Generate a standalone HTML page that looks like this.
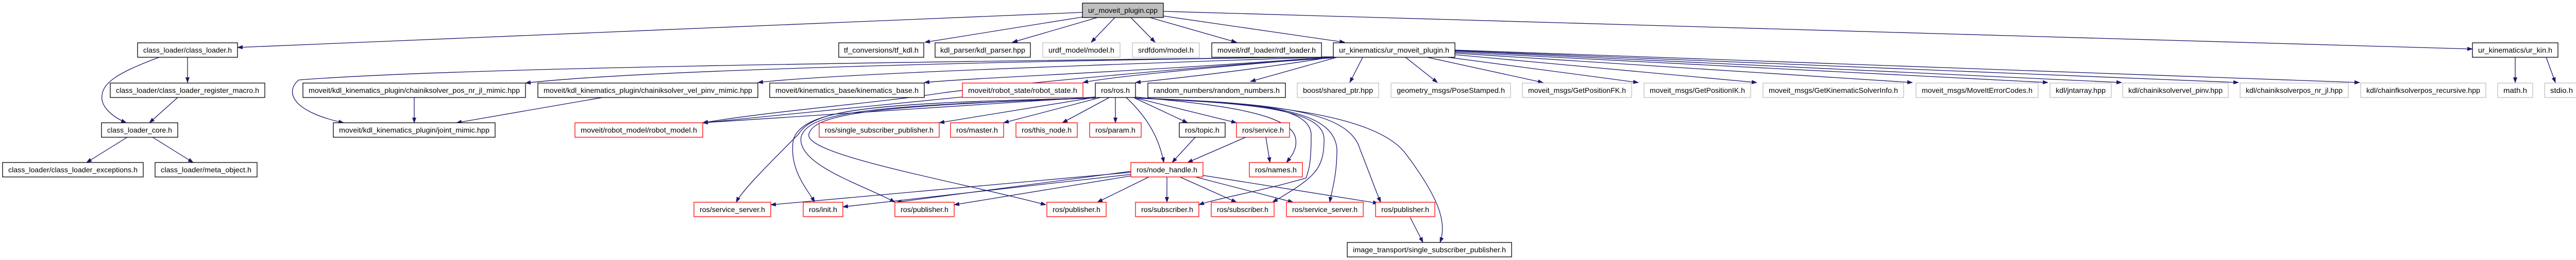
<!DOCTYPE html>
<html><head><meta charset="utf-8"><style>
html,body{margin:0;padding:0;background:#fff;}
svg{display:block;}
text{font-family:"Liberation Sans",sans-serif;font-size:14px;fill:#000;text-anchor:middle;}
.e{fill:none;stroke:#191970;stroke-width:1.3;marker-end:url(#a);}
.b{fill:#fff;stroke:#000;stroke-width:1.3;}
.r{fill:#fff;stroke:#ff0000;stroke-width:1.3;}
.g{fill:#fff;stroke:#bfbfbf;stroke-width:1.3;}
</style></head><body>
<svg width="5009" height="504" viewBox="0 0 5009 504" xmlns="http://www.w3.org/2000/svg">
<defs><marker id="a" markerWidth="11" markerHeight="8" refX="10" refY="4" orient="auto" markerUnits="userSpaceOnUse"><path d="M0,0L11,4L0,8z" fill="#191970"/></marker></defs>
<g>
<!-- edges from cpp -->
<path class="e" d="M2101,24L461,92"/>
<path class="e" d="M2101,33L1795,82"/>
<path class="e" d="M2130,34L1965,82"/>
<path class="e" d="M2164,34L2118,82"/>
<path class="e" d="M2195,34L2242,82"/>
<path class="e" d="M2232,34L2400,82"/>
<path class="e" d="M2258,31L2610,82"/>
<path class="e" d="M2258,22L4799,95"/>
<!-- class loader -->
<path class="e" d="M364,111L364,160"/>
<path class="e" d="M309,111C230,140 200,160 198,185C195,205 215,225 245,238"/>
<path class="e" d="M346,188L290,238"/>
<path class="e" d="M247,266L168,315"/>
<path class="e" d="M296,266L375,315"/>
<!-- ur_moveit_plugin.h fan -->
<path class="e" d="M2590,110C1800,120 900,130 580,155C555,175 560,215 667,238"/>
<path class="e" d="M2590,110C1800,120 1200,140 1020,161"/>
<path class="e" d="M2590,110C2000,130 1600,145 1471,160"/>
<path class="e" d="M2590,110C2200,140 1900,150 1794,160"/>
<path class="e" d="M2590,110C2300,135 2150,150 2102,160"/>
<path class="e" d="M2590,110C2400,140 2250,155 2204,160"/>
<path class="e" d="M2595,111L2427,158"/>
<path class="e" d="M2645,111L2620,160"/>
<path class="e" d="M2728,111L2790,160"/>
<path class="e" d="M2770,111L2995,160"/>
<path class="e" d="M2810,111L3180,160"/>
<path class="e" d="M2824,106L3410,160"/>
<path class="e" d="M2824,103L3712,160"/>
<path class="e" d="M2824,101L3975,160"/>
<path class="e" d="M2824,99L4118,160"/>
<path class="e" d="M2824,98L4345,160"/>
<path class="e" d="M2824,97L4580,160"/>
<path class="e" d="M2590,112C2300,130 1900,170 1830,180C1700,200 1500,215 1364,238"/>
<!-- ur_kin -->
<path class="e" d="M4882,111L4882,160"/>
<path class="e" d="M4942,111L4960,160"/>
<!-- mimic -->
<path class="e" d="M804,188L804,238"/>
<path class="e" d="M1175,188L886,238"/>
<!-- robot_state -->
<path class="e" d="M1868,188L1364,238"/>
<!-- ros.h -->
<path class="e" d="M2126,188L1364,238"/>
<path class="e" d="M2130,188L1823,238"/>
<path class="e" d="M2140,188L1948,238"/>
<path class="e" d="M2155,188L2062,238"/>
<path class="e" d="M2165,188L2165,238"/>
<path class="e" d="M2185,188C2230,230 2250,270 2259,315"/>
<path class="e" d="M2198,188L2305,238"/>
<path class="e" d="M2204,190L2400,238"/>
<path class="e" d="M2204,188C2330,200 2510,215 2515,270C2518,290 2505,305 2497,315"/>
<path class="e" d="M2126,190C1700,200 1580,210 1550,260C1490,320 1440,370 1429,392"/>
<path class="e" d="M2126,190C1700,200 1560,210 1540,270C1530,330 1570,370 1581,392"/>
<path class="e" d="M2126,190C1700,205 1570,215 1555,265C1545,320 1680,360 1737,392"/>
<path class="e" d="M2126,190C1700,205 1580,220 1570,260C1560,300 1850,350 2030,397"/>
<path class="e" d="M2204,190C2400,200 2540,200 2545,260C2545,320 2540,330 2535,345C2450,370 2360,385 2327,397"/>
<path class="e" d="M2204,190C2420,200 2570,210 2570,270C2570,330 2550,345 2470,392"/>
<path class="e" d="M2204,190C2450,200 2590,210 2595,290C2595,340 2585,370 2581,392"/>
<path class="e" d="M2204,190C2500,200 2620,220 2640,290C2660,340 2670,370 2680,392"/>
<path class="e" d="M2204,190C2500,200 2680,230 2730,300C2790,380 2810,430 2795,470"/>
<!-- topic/service -->
<path class="e" d="M2320,266L2275,315"/>
<path class="e" d="M2418,266L2305,315"/>
<path class="e" d="M2457,266L2465,315"/>
<!-- node_handle -->
<path class="e" d="M2195,334L1496,397"/>
<path class="e" d="M2195,338L1636,401"/>
<path class="e" d="M2195,332L1740,392"/>
<path class="e" d="M2195,341L1852,397"/>
<path class="e" d="M2230,343L2130,392"/>
<path class="e" d="M2265,343L2265,392"/>
<path class="e" d="M2290,343L2400,392"/>
<path class="e" d="M2320,343L2510,392"/>
<path class="e" d="M2335,340L2675,394"/>
<path class="e" d="M2737,421L2762,470"/>
</g>
<g>
<rect class="b" x="2101" y="6" width="157" height="28" style="fill:#bfbfbf"/><text x="2179.5" y="25" textLength="135" lengthAdjust="spacingAndGlyphs">ur_moveit_plugin.cpp</text>

<rect class="b" x="267" y="83" width="194" height="28"/><text x="364" y="102" textLength="172" lengthAdjust="spacingAndGlyphs">class_loader/class_loader.h</text>
<rect class="b" x="1628" y="83" width="165" height="28"/><text x="1710.5" y="102" textLength="145" lengthAdjust="spacingAndGlyphs">tf_conversions/tf_kdl.h</text>
<rect class="b" x="1815" y="83" width="185" height="28"/><text x="1907.5" y="102" textLength="165" lengthAdjust="spacingAndGlyphs">kdl_parser/kdl_parser.hpp</text>
<rect class="g" x="2024" y="83" width="150" height="28"/><text x="2099" y="102" textLength="128" lengthAdjust="spacingAndGlyphs">urdf_model/model.h</text>
<rect class="g" x="2198" y="83" width="130" height="28"/><text x="2263" y="102" textLength="108" lengthAdjust="spacingAndGlyphs">srdfdom/model.h</text>
<rect class="b" x="2352" y="83" width="213" height="28"/><text x="2458.5" y="102" textLength="191" lengthAdjust="spacingAndGlyphs">moveit/rdf_loader/rdf_loader.h</text>
<rect class="b" x="2588" y="83" width="236" height="28"/><text x="2706" y="102" textLength="214" lengthAdjust="spacingAndGlyphs">ur_kinematics/ur_moveit_plugin.h</text>
<rect class="b" x="4799" y="83" width="166" height="28"/><text x="4882" y="102" textLength="144" lengthAdjust="spacingAndGlyphs">ur_kinematics/ur_kin.h</text>

<rect class="b" x="214" y="161" width="300" height="28"/><text x="364" y="180" textLength="278" lengthAdjust="spacingAndGlyphs">class_loader/class_loader_register_macro.h</text>
<rect class="b" x="588" y="161" width="432" height="28"/><text x="804" y="180" textLength="410" lengthAdjust="spacingAndGlyphs">moveit/kdl_kinematics_plugin/chainiksolver_pos_nr_jl_mimic.hpp</text>
<rect class="b" x="1044" y="161" width="427" height="28"/><text x="1257.5" y="180" textLength="405" lengthAdjust="spacingAndGlyphs">moveit/kdl_kinematics_plugin/chainiksolver_vel_pinv_mimic.hpp</text>
<rect class="b" x="1494" y="161" width="300" height="28"/><text x="1644" y="180" textLength="278" lengthAdjust="spacingAndGlyphs">moveit/kinematics_base/kinematics_base.h</text>
<rect class="r" x="1868" y="161" width="234" height="28"/><text x="1985" y="180" textLength="212" lengthAdjust="spacingAndGlyphs">moveit/robot_state/robot_state.h</text>
<rect class="b" x="2126" y="161" width="78" height="28"/><text x="2165" y="180" textLength="56" lengthAdjust="spacingAndGlyphs">ros/ros.h</text>
<rect class="b" x="2228" y="161" width="267" height="28"/><text x="2361.5" y="180" textLength="245" lengthAdjust="spacingAndGlyphs">random_numbers/random_numbers.h</text>
<rect class="g" x="2518" y="161" width="158" height="28"/><text x="2597" y="180" textLength="136" lengthAdjust="spacingAndGlyphs">boost/shared_ptr.hpp</text>
<rect class="g" x="2700" y="161" width="232" height="28"/><text x="2816" y="180" textLength="210" lengthAdjust="spacingAndGlyphs">geometry_msgs/PoseStamped.h</text>
<rect class="g" x="2955" y="161" width="212" height="28"/><text x="3061" y="180" textLength="190" lengthAdjust="spacingAndGlyphs">moveit_msgs/GetPositionFK.h</text>
<rect class="g" x="3191" y="161" width="207" height="28"/><text x="3294.5" y="180" textLength="185" lengthAdjust="spacingAndGlyphs">moveit_msgs/GetPositionIK.h</text>
<rect class="g" x="3422" y="161" width="273" height="28"/><text x="3558.5" y="180" textLength="251" lengthAdjust="spacingAndGlyphs">moveit_msgs/GetKinematicSolverInfo.h</text>
<rect class="g" x="3719" y="161" width="237" height="28"/><text x="3837.5" y="180" textLength="215" lengthAdjust="spacingAndGlyphs">moveit_msgs/MoveItErrorCodes.h</text>
<rect class="g" x="3979" y="161" width="119" height="28"/><text x="4038.5" y="180" textLength="97" lengthAdjust="spacingAndGlyphs">kdl/jntarray.hpp</text>
<rect class="g" x="4120" y="161" width="205" height="28"/><text x="4222.5" y="180" textLength="183" lengthAdjust="spacingAndGlyphs">kdl/chainiksolvervel_pinv.hpp</text>
<rect class="g" x="4348" y="161" width="210" height="28"/><text x="4453" y="180" textLength="188" lengthAdjust="spacingAndGlyphs">kdl/chainiksolverpos_nr_jl.hpp</text>
<rect class="g" x="4582" y="161" width="243" height="28"/><text x="4703.5" y="180" textLength="221" lengthAdjust="spacingAndGlyphs">kdl/chainfksolverpos_recursive.hpp</text>
<rect class="g" x="4848" y="161" width="68" height="28"/><text x="4882" y="180" textLength="46" lengthAdjust="spacingAndGlyphs">math.h</text>
<rect class="g" x="4939" y="161" width="66" height="28"/><text x="4972" y="180" textLength="44" lengthAdjust="spacingAndGlyphs">stdio.h</text>

<rect class="b" x="197" y="238" width="148" height="28"/><text x="271" y="257" textLength="126" lengthAdjust="spacingAndGlyphs">class_loader_core.h</text>
<rect class="b" x="647" y="238" width="314" height="28"/><text x="804" y="257" textLength="292" lengthAdjust="spacingAndGlyphs">moveit/kdl_kinematics_plugin/joint_mimic.hpp</text>
<rect class="r" x="1116" y="238" width="248" height="28"/><text x="1240" y="257" textLength="226" lengthAdjust="spacingAndGlyphs">moveit/robot_model/robot_model.h</text>
<rect class="r" x="1590" y="238" width="233" height="28"/><text x="1706.5" y="257" textLength="211" lengthAdjust="spacingAndGlyphs">ros/single_subscriber_publisher.h</text>
<rect class="r" x="1845" y="238" width="103" height="28"/><text x="1896.5" y="257" textLength="81" lengthAdjust="spacingAndGlyphs">ros/master.h</text>
<rect class="r" x="1972" y="238" width="119" height="28"/><text x="2031.5" y="257" textLength="97" lengthAdjust="spacingAndGlyphs">ros/this_node.h</text>
<rect class="r" x="2115" y="238" width="100" height="28"/><text x="2165" y="257" textLength="78" lengthAdjust="spacingAndGlyphs">ros/param.h</text>
<rect class="b" x="2289" y="238" width="89" height="28"/><text x="2333.5" y="257" textLength="67" lengthAdjust="spacingAndGlyphs">ros/topic.h</text>
<rect class="r" x="2400" y="238" width="103" height="28"/><text x="2451.5" y="257" textLength="81" lengthAdjust="spacingAndGlyphs">ros/service.h</text>

<rect class="b" x="5" y="315" width="273" height="28"/><text x="141.5" y="334" textLength="251" lengthAdjust="spacingAndGlyphs">class_loader/class_loader_exceptions.h</text>
<rect class="b" x="301" y="315" width="198" height="28"/><text x="400" y="334" textLength="176" lengthAdjust="spacingAndGlyphs">class_loader/meta_object.h</text>
<rect class="r" x="2195" y="315" width="140" height="28"/><text x="2265" y="334" textLength="118" lengthAdjust="spacingAndGlyphs">ros/node_handle.h</text>
<rect class="r" x="2425" y="315" width="103" height="28"/><text x="2476.5" y="334" textLength="81" lengthAdjust="spacingAndGlyphs">ros/names.h</text>

<rect class="r" x="1347" y="392" width="149" height="28"/><text x="1421.5" y="411" textLength="127" lengthAdjust="spacingAndGlyphs">ros/service_server.h</text>
<rect class="r" x="1559" y="392" width="77" height="28"/><text x="1597.5" y="411" textLength="55" lengthAdjust="spacingAndGlyphs">ros/init.h</text>
<rect class="r" x="1737" y="392" width="115" height="28"/><text x="1794.5" y="411" textLength="93" lengthAdjust="spacingAndGlyphs">ros/publisher.h</text>
<rect class="r" x="2032" y="392" width="115" height="28"/><text x="2089.5" y="411" textLength="93" lengthAdjust="spacingAndGlyphs">ros/publisher.h</text>
<rect class="r" x="2204" y="392" width="123" height="28"/><text x="2265.5" y="411" textLength="101" lengthAdjust="spacingAndGlyphs">ros/subscriber.h</text>
<rect class="r" x="2351" y="392" width="122" height="28"/><text x="2412" y="411" textLength="100" lengthAdjust="spacingAndGlyphs">ros/subscriber.h</text>
<rect class="r" x="2497" y="392" width="149" height="28"/><text x="2571.5" y="411" textLength="127" lengthAdjust="spacingAndGlyphs">ros/service_server.h</text>
<rect class="r" x="2670" y="392" width="115" height="28"/><text x="2727.5" y="411" textLength="93" lengthAdjust="spacingAndGlyphs">ros/publisher.h</text>

<rect class="b" x="2615" y="470" width="319" height="28"/><text x="2774.5" y="489" textLength="297" lengthAdjust="spacingAndGlyphs">image_transport/single_subscriber_publisher.h</text>
</g>
</svg>
</body></html>
